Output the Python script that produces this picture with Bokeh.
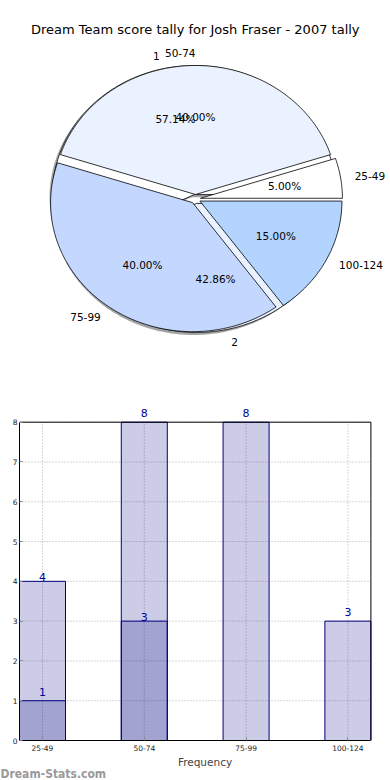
import numpy as np
from bokeh.plotting import figure
from bokeh.models import Range1d, ColumnDataSource, Label, FixedTicker, Title
from bokeh.layouts import column
from bokeh.embed import file_html
from bokeh.resources import INLINE

# ---------------- data ----------------
chart_title = "Dream Team score tally for Josh Fraser - 2007 tally"
categories = ["25-49", "50-74", "75-99", "100-124"]
tally_counts = [1, 8, 8, 3]
group_labels = ["1", "2"]
group_counts = [4, 3]
y_ticks = [0, 1, 2, 3, 4, 5, 6, 7, 8]
x_axis_title = "Frequency"
watermark = "Dream-Stats.com"

# ---------------- style ----------------
cat_colors = ["#FFFFFF", "#EAF1FF", "#C4D8FF", "#B3D4FF"]
group_colors = ["#FFFFFF", "#EAF1FF"]
bar_color = "#000080"
label_color = "#000099"
grid_color = "#b0b0b0"
FONT = "DejaVu Sans"

W = 390
BL = 19                    # shared left border (column aligns frames)
PIE_H = 380
PIE_TOP = 48
RX, RY = 142.0, 129.0      # px per unit radius (x, y)
CX, CY = 176.0, 150.5      # pie centre in frame px (from left, from top)
EXPLODE = 0.035
SHADOW = 0.02


def darken(hexcol, f=0.3):
    h = hexcol.lstrip("#")
    r, g, b = (int(h[i:i + 2], 16) for i in (0, 2, 4))
    return "#%02x%02x%02x" % (int(r * f), int(g * f), int(b * f))


def pie_geometry(vals, explode):
    vals = np.asarray(vals, float)
    frac = vals / vals.sum()
    ends = np.cumsum(frac) * 2 * np.pi
    starts = ends - frac * 2 * np.pi
    out = []
    for a, b in zip(starts, ends):
        m = (a + b) / 2
        ox, oy = explode * np.cos(m), explode * np.sin(m)
        t = np.linspace(a, b, max(int((b - a) / 0.015), 4))
        xs = np.concatenate([[ox], ox + np.cos(t), [ox]])
        ys = np.concatenate([[oy], oy + np.sin(t), [oy]])
        out.append(dict(xs=xs, ys=ys, ox=ox, oy=oy, m=m))
    return frac, out


frame_w = W - BL
frame_h = PIE_H - PIE_TOP
pp = figure(width=W, height=PIE_H,
            x_range=Range1d(-CX / RX, (frame_w - CX) / RX),
            y_range=Range1d(-(frame_h - CY) / RY, CY / RY),
            output_backend="svg", toolbar_location=None,
            x_axis_location=None, y_axis_location=None,
            min_border_left=BL, min_border_right=0,
            min_border_bottom=0, min_border_top=PIE_TOP)
pp.title = Title(text=chart_title, align="left", offset=11.5, standoff=24,
                 text_font=FONT, text_font_size="13px", text_font_style="normal",
                 text_color="black")
pp.grid.visible = False
pp.outline_line_color = None

# pie of groups (drawn first, with shadows)
g_frac, g_geo = pie_geometry(group_counts, EXPLODE)
src = dict(xs=[], ys=[], fc=[], fa=[], lc=[])
for g, col in zip(g_geo, group_colors):
    src["xs"].append(list(g["xs"] - SHADOW)); src["ys"].append(list(g["ys"] - SHADOW))
    src["fc"].append(darken(col)); src["fa"].append(0.5); src["lc"].append(None)
    src["xs"].append(list(g["xs"])); src["ys"].append(list(g["ys"]))
    src["fc"].append(col); src["fa"].append(1.0); src["lc"].append("black")
pp.patches("xs", "ys", source=ColumnDataSource(src), fill_color="fc", fill_alpha="fa",
           line_color="lc", line_width=0.8)

# pie of score bands
c_frac, c_geo = pie_geometry(tally_counts, EXPLODE)
pp.patches([list(g["xs"]) for g in c_geo], [list(g["ys"]) for g in c_geo],
           fill_color=cat_colors, line_color="black", line_width=0.8)

for labels, frac, geo in ((group_labels, g_frac, g_geo), (categories, c_frac, c_geo)):
    for lab, f, g in zip(labels, frac, geo):
        c, s = np.cos(g["m"]), np.sin(g["m"])
        pp.add_layout(Label(x=g["ox"] + 1.1 * c, y=g["oy"] + 1.1 * s, text=lab,
                            text_align="left" if c > 1e-9 else "right",
                            text_baseline="middle", text_font=FONT,
                            text_font_size="10.5px", text_color="black"))
        pp.add_layout(Label(x=g["ox"] + 0.6 * c, y=g["oy"] + 0.6 * s,
                            text="%.2f%%" % (100 * f), text_align="center",
                            text_baseline="middle", text_font=FONT,
                            text_font_size="10.5px", text_color="black"))

# ---------------- bar chart ----------------
BAR_H = 400
PLOT_L, PLOT_R, PLOT_T, PLOT_B = 19.0, 370.4, 421.7, 740.0   # page px of the axes box
BAR_TOP = 24                                                 # border above frame
bw = 0.452
n = len(categories)
xs = list(range(n))
x_lo, x_hi = -bw / 2, n - 1 + bw / 2
y_lo, y_hi = y_ticks[0], y_ticks[-1]
px_x = (PLOT_R - PLOT_L) / (x_hi - x_lo)
px_y = (PLOT_B - PLOT_T) / (y_hi - y_lo)
bar_frame_h = PLOT_B - (PIE_H + BAR_TOP)
pb = figure(width=W, height=BAR_H,
            x_range=Range1d(x_lo, x_lo + (W - BL) / px_x),
            y_range=Range1d(y_lo, y_lo + bar_frame_h / px_y),
            output_backend="svg", toolbar_location=None,
            min_border_left=BL, min_border_right=0,
            min_border_top=BAR_TOP, min_border_bottom=int(PIE_H + BAR_H - PLOT_B))
pb.grid.visible = False
pb.outline_line_color = None

# dotted grid, limited to the axes box
pb.segment(x0=xs, y0=[y_lo] * n, x1=xs, y1=[y_hi] * n,
           line_color=grid_color, line_dash="1 2", line_width=1)
pb.segment(x0=[x_lo] * len(y_ticks), y0=y_ticks, x1=[x_hi] * len(y_ticks), y1=y_ticks,
           line_color=grid_color, line_dash="1 2", line_width=1)

pb.vbar(x=xs, top=tally_counts, width=bw, fill_color=bar_color, fill_alpha=0.2,
        line_color=bar_color, line_width=1)
pb.vbar(x=xs[:len(group_counts)], top=group_counts, width=bw, fill_color=bar_color,
        fill_alpha=0.2, line_color=bar_color, line_width=1)

# top and right edges of the axes box
pb.segment(x0=[x_lo, x_hi], y0=[y_hi, y_lo], x1=[x_hi, x_hi], y1=[y_hi, y_hi],
           line_color="black", line_width=1)

pb.xaxis.ticker = FixedTicker(ticks=xs)
pb.xaxis.major_label_overrides = {i: c for i, c in enumerate(categories)}
pb.xaxis.bounds = (x_lo, x_hi)
pb.yaxis.ticker = FixedTicker(ticks=y_ticks)
pb.yaxis.bounds = (y_lo, y_hi)
for ax in (pb.xaxis, pb.yaxis):
    ax.major_label_text_font = FONT
    ax.major_label_text_font_size = "7.5px"
    ax.major_label_text_color = "#222222"
    ax.major_label_standoff = 2
    ax.major_tick_in = 3
    ax.major_tick_out = 0
    ax.major_tick_line_color = "#888888"
    ax.minor_tick_line_color = None
    ax.axis_line_color = "black"
pb.xaxis.major_label_standoff = 4
pb.xaxis.axis_label = x_axis_title
pb.xaxis.axis_label_text_font = FONT
pb.xaxis.axis_label_text_font_size = "10.5px"
pb.xaxis.axis_label_text_font_style = "normal"
pb.xaxis.axis_label_standoff = 2

for vals, off in ((tally_counts, 5), (group_counts, 0)):
    for xi, v in zip(xs, vals):
        pb.add_layout(Label(x=xi, y=v, text=str(v), y_offset=off, text_align="center",
                            text_baseline="bottom", text_font=FONT,
                            text_font_size="11px", text_color=label_color))

pb.add_layout(Title(text=watermark, align="left", offset=-BL, standoff=-8,
                    vertical_align="top",
                    text_font="DejaVu Sans Condensed", text_font_size="12px",
                    text_font_style="bold", text_color="#999999"), "below")

layout = column(pp, pb, spacing=0)
open("out.html", "w").write(file_html(layout, INLINE))
